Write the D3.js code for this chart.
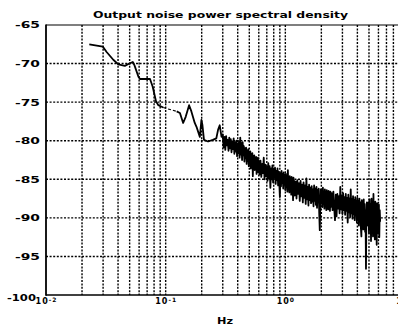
<!DOCTYPE html>
<html><head><meta charset="utf-8">
<script src="https://cdn.jsdelivr.net/npm/d3@7"></script>
<style>html,body{margin:0;padding:0;background:#fff;overflow:hidden}svg{display:block}</style>
</head><body>
<svg id="c" width="398" height="326"></svg>
<script>
const titleText = "Output noise power spectral density";
const xLabelText = "Hz";
const yTickValues = [-65, -70, -75, -80, -85, -90, -95, -100];
const xTickValues = [0.01, 0.1, 1, 10];
const xTickExponents = ["-2", "-1", "0", "1"];
const gridDecades = [0.01, 0.1, 1];
const gridMultipliers = [1, 2, 3, 4, 5, 6, 7, 8, 9];

const freqHz = [
  0.0230, 0.0298, 0.0321, 0.0365, 0.0402, 0.0456, 0.0497, 0.0531, 0.0548, 0.0592,
  0.0610, 0.0740, 0.0779, 0.0831, 0.0869, 0.0955, 0.1236, 0.1316, 0.140, 0.147,
  0.157, 0.164, 0.175, 0.181, 0.193, 0.199, 0.203, 0.209, 0.226, 0.248,
  0.265, 0.274, 0.283, 0.293,
  0.300, 0.305, 0.310, 0.315, 0.320, 0.325, 0.330, 0.335, 0.340, 0.345,
  0.350, 0.355, 0.360, 0.365, 0.370, 0.375, 0.380, 0.385, 0.390, 0.395,
  0.400, 0.405, 0.410, 0.415, 0.420, 0.425, 0.430, 0.435, 0.440, 0.445,
  0.450, 0.455, 0.460, 0.465, 0.470, 0.475, 0.480, 0.485, 0.490, 0.495,
  0.500, 0.505, 0.510, 0.515, 0.520, 0.525, 0.530, 0.535, 0.540, 0.545,
  0.550, 0.555, 0.560, 0.565, 0.570, 0.575, 0.580, 0.585, 0.590, 0.595, 0.600,
  0.61, 0.62, 0.63, 0.64, 0.65, 0.66, 0.67, 0.68, 0.69, 0.70,
  0.71, 0.72, 0.73, 0.74, 0.75, 0.76, 0.77, 0.78, 0.79, 0.80,
  0.81, 0.82, 0.83, 0.84, 0.85, 0.86, 0.87, 0.88, 0.89, 0.90,
  0.91, 0.92, 0.93, 0.94, 0.95, 0.96, 0.97, 0.98, 0.99, 1.00,
  1.01, 1.02, 1.03, 1.04, 1.05, 1.06, 1.07, 1.08, 1.09, 1.10,
  1.11, 1.12, 1.13, 1.14, 1.15, 1.16, 1.17, 1.18, 1.19, 1.20,
  1.22, 1.24, 1.26, 1.28, 1.30, 1.32, 1.34, 1.36, 1.38, 1.40,
  1.42, 1.44, 1.46, 1.48, 1.50, 1.52, 1.54, 1.56, 1.58, 1.60,
  1.62, 1.64, 1.66, 1.68, 1.70, 1.72, 1.74, 1.76, 1.78, 1.80,
  1.82, 1.84, 1.86, 1.88, 1.90, 1.92, 1.94, 1.96, 1.98, 2.00,
  2.02, 2.04, 2.06, 2.08, 2.10, 2.12, 2.14, 2.16, 2.18, 2.20,
  2.22, 2.24, 2.26, 2.28, 2.30, 2.32, 2.34, 2.36, 2.38, 2.40,
  2.44, 2.48, 2.52, 2.56, 2.60, 2.64, 2.68, 2.72, 2.76, 2.80,
  2.84, 2.88, 2.92, 2.96, 3.00, 3.04, 3.08, 3.12, 3.16, 3.20,
  3.24, 3.28, 3.32, 3.36, 3.40, 3.44, 3.48, 3.52, 3.56, 3.60,
  3.64, 3.68, 3.72, 3.76, 3.80, 3.84, 3.88, 3.92, 3.96, 4.00,
  4.04, 4.08, 4.12, 4.16, 4.20, 4.24, 4.28, 4.32, 4.36, 4.40,
  4.44, 4.48, 4.52, 4.56, 4.60, 4.64, 4.68, 4.72, 4.76, 4.80,
  4.85, 4.90, 4.95, 5.00, 5.05, 5.10, 5.15, 5.20, 5.25, 5.30,
  5.35, 5.40, 5.45, 5.50, 5.55, 5.60, 5.65, 5.70, 5.75, 5.80,
  5.85, 5.90, 5.95, 6.00, 6.05, 6.10, 6.15, 6.20
];
const psdDb = [
  -67.5, -67.8, -68.5, -69.5, -70.1, -70.3, -70.0, -69.8, -70.2, -71.7,
  -72.0, -72.0, -73.0, -74.9, -75.4, -75.7, -76.2, -76.4, -77.7, -76.9,
  -75.4, -76.2, -77.7, -78.2, -79.5, -77.3, -78.0, -79.9, -80.1, -79.9,
  -79.7, -78.6, -78.0, -79.5,
  -79.2, -80.9, -79.5, -81.2, -79.4, -80.6, -79.9, -81.3, -79.6, -81.0,
  -79.8, -81.5, -80.1, -81.1, -79.7, -81.7, -80.2, -81.4, -80.0, -82.0,
  -80.4, -81.6, -80.1, -82.2, -79.6, -81.8, -80.3, -82.5, -80.2, -81.9,
  -80.7, -82.7, -81.0, -82.3, -80.9, -83.0, -81.3, -82.6, -81.1, -83.3,
  -81.5, -82.9, -81.4, -83.6, -81.8, -83.2, -81.6, -84.6, -82.0, -83.4,
  -81.9, -83.8, -82.3, -83.5, -82.1, -84.3, -82.5, -83.7, -82.2, -84.1, -82.6,
  -84.4, -82.6, -84.7, -83.0, -84.2, -82.2, -85.0, -83.1, -84.6, -83.4,
  -85.2, -82.9, -84.9, -83.3, -86.1, -83.6, -85.0, -83.2, -85.4, -83.7,
  -84.8, -83.5, -85.6, -83.9, -85.1, -83.6, -85.8, -84.0, -85.3, -87.3,
  -84.2, -85.9, -83.9, -85.5, -84.3, -86.2, -84.1, -85.7, -84.5, -86.4,
  -84.3, -85.8, -84.6, -86.6, -83.8, -86.0, -84.8, -86.7, -84.6, -86.2,
  -84.9, -87.0, -84.7, -86.4, -85.1, -87.7, -84.8, -86.5, -85.2, -87.1,
  -85.3, -87.5, -85.1, -86.9, -85.5, -87.8, -85.2, -87.2, -85.7, -88.0,
  -85.4, -87.4, -85.8, -88.2, -84.9, -87.6, -86.0, -88.4, -85.7, -87.7,
  -86.1, -88.1, -85.9, -87.9, -86.3, -88.5, -85.8, -87.8, -86.2, -88.3,
  -86.0, -88.7, -86.4, -88.0, -86.2, -89.4, -91.6, -88.3, -86.3, -88.1,
  -86.5, -88.6, -86.1, -88.2, -86.6, -88.8, -86.3, -88.4, -86.7, -89.0,
  -86.4, -88.5, -86.8, -88.9, -86.5, -88.3, -86.9, -89.1, -86.6, -88.6,
  -86.8, -89.0, -86.6, -88.7, -90.3, -87.0, -89.8, -86.9, -88.8, -87.2,
  -89.4, -86.0, -88.9, -87.1, -89.5, -86.8, -89.0, -87.3, -89.6, -86.9,
  -89.1, -87.4, -90.6, -87.0, -89.3, -87.5, -89.9, -86.3, -89.4, -87.6,
  -90.1, -87.2, -89.5, -87.7, -90.3, -87.3, -89.7, -87.8, -90.6, -87.4,
  -90.0, -87.9, -91.0, -87.5, -90.4, -88.0, -91.3, -92.4, -87.7, -90.8,
  -88.1, -91.5, -87.6, -90.9, -88.2, -91.8, -89.0, -96.6, -89.5, -88.0,
  -89.5, -91.0, -88.0, -92.0, -87.6, -91.5, -88.2, -93.0, -87.5, -91.2,
  -88.4, -92.4, -86.9, -90.9, -88.6, -92.8, -87.9, -91.6, -88.5, -93.5,
  -88.1, -92.0, -88.9, -91.3, -88.3, -92.5, -89.0, -90.5
];

const svg = d3.select("#c");
const pLeft = 46, pRight = 405, pTop = 25, pBottom = 295;
const x = d3.scaleLog().domain([0.01, 10]).range([pLeft, pRight]);
const y = d3.scaleLinear().domain([-100, -65]).range([pBottom, pTop]);
const font = "'DejaVu Sans', sans-serif";

// vertical dotted grid
const vgrid = [];
gridDecades.forEach(d => gridMultipliers.forEach(m => { const v = d * m; if (v > 0.0101) vgrid.push(v); }));
svg.append("g").selectAll("line").data(vgrid).join("line")
  .attr("x1", d => x(d)).attr("x2", d => x(d))
  .attr("y1", pTop).attr("y2", pBottom)
  .attr("stroke", "#000").attr("stroke-width", 1.4).attr("stroke-dasharray", "2,1.4");

// horizontal dotted grid
svg.append("g").selectAll("line").data(yTickValues.filter(v => v > -100 && v < -65)).join("line")
  .attr("x1", pLeft).attr("x2", pRight)
  .attr("y1", d => y(d)).attr("y2", d => y(d))
  .attr("stroke", "#000").attr("stroke-width", 1.4).attr("stroke-dasharray", "2,1.6");

// frame
svg.append("line").attr("x1", pLeft).attr("x2", pRight).attr("y1", pTop).attr("y2", pTop)
  .attr("stroke", "#000").attr("stroke-width", 1.1);
svg.append("line").attr("x1", pLeft).attr("x2", pRight).attr("y1", pBottom).attr("y2", pBottom)
  .attr("stroke", "#000").attr("stroke-width", 1.6);
svg.append("line").attr("x1", pLeft).attr("x2", pLeft).attr("y1", pTop - 0.5).attr("y2", pBottom + 0.8)
  .attr("stroke", "#000").attr("stroke-width", 1.8);

// y axis labels
const yAxis = d3.axisLeft(y).tickValues(yTickValues).tickSize(0).tickPadding(6).tickFormat(d => String(d));
const gy = svg.append("g").attr("transform", `translate(${pLeft},0)`).call(yAxis);
gy.select(".domain").remove();
gy.selectAll("text")
  .attr("font-family", font).attr("font-weight", "bold").attr("font-size", 8.5).attr("fill", "#000")
  .attr("textLength", d => d === -100 ? 29 : 25).attr("lengthAdjust", "spacingAndGlyphs")
  .attr("x", d => d === -100 ? -10 : -6)
  .attr("dy", d => d === -100 ? "0.6em" : "0.35em");

// x axis labels
const xAxis = d3.axisBottom(x).tickValues(xTickValues).tickSize(0).tickPadding(3).tickFormat(() => "");
const gx = svg.append("g").attr("transform", `translate(0,${pBottom})`).call(xAxis);
gx.select(".domain").remove();
gx.selectAll("text").each(function(d, i) {
  const t = d3.select(this).attr("font-family", font).attr("font-weight", "bold")
    .attr("font-size", 8).attr("fill", "#000").attr("letter-spacing", 1);
  t.append("tspan").text("10");
  t.append("tspan").attr("dy", "-0.35em").attr("font-size", 6).text(xTickExponents[i]);
});

// title and axis label
svg.append("text").attr("x", 220.5).attr("y", 18).attr("text-anchor", "middle")
  .attr("font-family", font).attr("font-weight", "bold").attr("font-size", 8.5)
  .attr("textLength", 255).attr("lengthAdjust", "spacingAndGlyphs").text(titleText);
svg.append("text").attr("x", 225).attr("y", 324).attr("text-anchor", "middle")
  .attr("font-family", font).attr("font-weight", "bold").attr("font-size", 8)
  .attr("textLength", 16).attr("lengthAdjust", "spacingAndGlyphs").text(xLabelText);

// spectrum line (the faint stretch after 0.0955 Hz is printed broken in the original)
const pts = freqHz.map((f, i) => ({ f, v: psdDb[i] }));
const line = d3.line().x(d => x(d.f)).y(d => y(d.v));
const faintStart = freqHz.indexOf(0.0955);
[pts.slice(0, faintStart + 1), pts.slice(faintStart + 1)].forEach(seg => {
  svg.append("path").datum(seg)
    .attr("fill", "none").attr("stroke", "#000").attr("stroke-width", 1.8)
    .attr("stroke-linejoin", "round").attr("d", line);
});
svg.append("path").datum(pts.slice(faintStart, faintStart + 2))
  .attr("fill", "none").attr("stroke", "#000").attr("stroke-width", 1.1)
  .attr("stroke-dasharray", "3,2").attr("d", line);
</script>
</body></html>
